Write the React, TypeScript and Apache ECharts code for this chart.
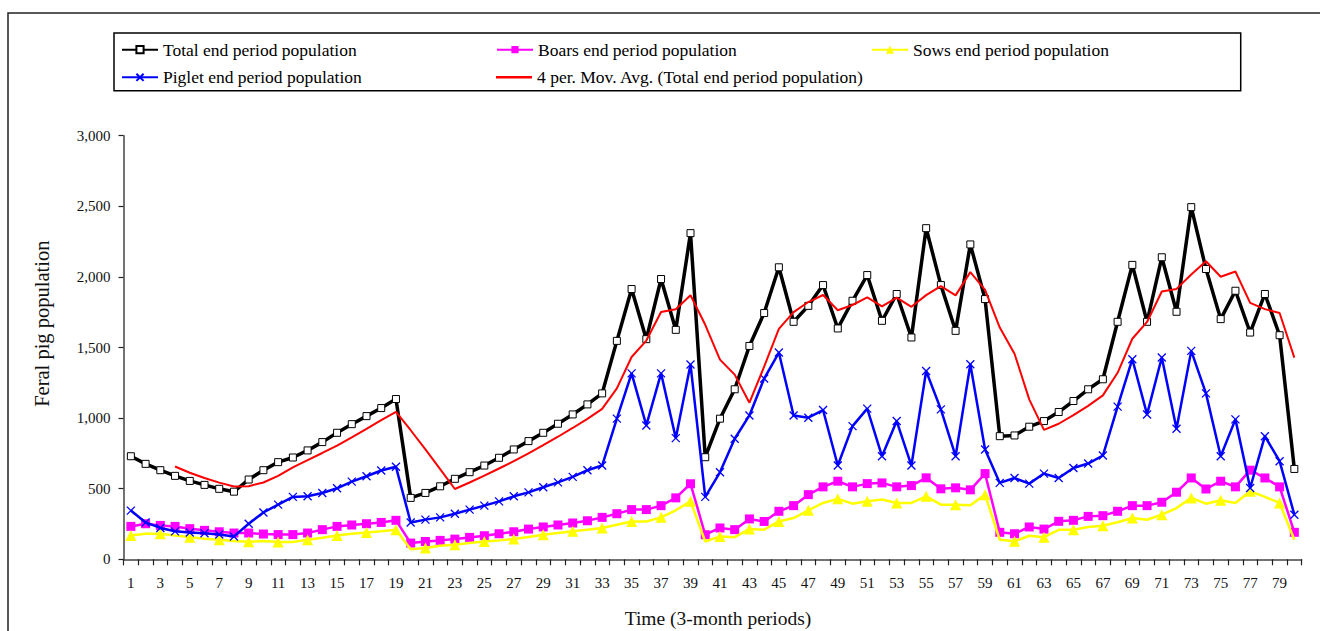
import React, { useEffect, useRef } from "react";
import * as echarts from "echarts";

const periods: string[] = Array.from({ length: 80 }, (_, i) => String(i + 1));

const totalPop = [
  730, 676, 631, 591, 555, 527, 499, 479, 565, 631,
  688, 721, 771, 830, 896, 957, 1014, 1071, 1135, 435,
  470, 517, 570, 617, 664, 719, 778, 837, 896, 960,
  1026, 1097, 1175, 1547, 1914, 1559, 1985, 1625, 2310, 723,
  996, 1204, 1511, 1744, 2068, 1682, 1795, 1942, 1635, 1831,
  2013, 1689, 1879, 1571, 2345, 1942, 1618, 2230, 1843, 872,
  877, 939, 979, 1043, 1121, 1204, 1275, 1682, 2085, 1682,
  2139, 1753, 2494, 2056, 1701, 1902, 1606, 1879, 1587, 640,
];

const boarsPop = [
  233, 252, 240, 233, 217, 205, 195, 186, 186, 179,
  175, 175, 186, 210, 233, 243, 252, 261, 276, 115,
  126, 134, 143, 155, 167, 181, 195, 214, 229, 243,
  257, 273, 297, 323, 352, 352, 380, 435, 535, 174,
  222, 210, 286, 268, 340, 380, 458, 513, 553, 513,
  536, 541, 513, 522, 577, 499, 506, 492, 607, 191,
  181, 229, 214, 269, 276, 304, 309, 340, 380, 380,
  404, 475, 576, 498, 553, 513, 631, 576, 513, 191,
];

const sowsPop = [
  169, 181, 181, 169, 157, 145, 138, 129, 124, 129,
  122, 122, 138, 152, 169, 181, 190, 198, 210, 72,
  80, 96, 103, 115, 126, 134, 143, 158, 174, 186,
  198, 210, 222, 245, 268, 268, 297, 347, 411, 126,
  162, 157, 214, 210, 268, 292, 347, 399, 428, 394,
  411, 423, 399, 399, 446, 387, 387, 383, 458, 138,
  127, 167, 157, 209, 209, 229, 238, 262, 292, 280,
  316, 363, 435, 394, 418, 399, 482, 442, 399, 138,
];

const pigletPop = [
  345, 261, 222, 198, 190, 185, 176, 162, 252, 332,
  387, 442, 446, 470, 503, 550, 588, 629, 655, 261,
  281, 297, 323, 352, 380, 410, 446, 474, 510, 545,
  584, 631, 664, 996, 1317, 948, 1317, 858, 1380, 442,
  616, 854, 1019, 1280, 1464, 1019, 1003, 1057, 664, 943,
  1067, 730, 979, 664, 1334, 1062, 730, 1381, 778, 541,
  576, 536, 607, 576, 647, 678, 735, 1081, 1417, 1026,
  1429, 925, 1476, 1175, 730, 991, 505, 872, 695, 316,
];

const movAvg = [
  null, null, null, 657, 613, 576, 543, 515, 518, 544,
  591, 651, 703, 753, 805, 864, 924, 985, 1044, 914,
  778, 639, 498, 544, 592, 643, 695, 750, 808, 868,
  930, 995, 1065, 1211, 1433, 1549, 1751, 1771, 1870, 1661,
  1414, 1308, 1109, 1364, 1632, 1751, 1822, 1872, 1764, 1801,
  1855, 1792, 1853, 1788, 1871, 1934, 1869, 2034, 1908, 1641,
  1456, 1133, 917, 960, 1021, 1087, 1161, 1321, 1562, 1681,
  1897, 1915, 2017, 2111, 2001, 2038, 1816, 1772, 1744, 1428,
];

const yTicks = { min: 0, max: 3000, interval: 500 };

const NAMES = {
  total: "Total end period population",
  boars: "Boars end period population",
  sows: "Sows end period population",
  piglet: "Piglet end period population",
  ma: "4 per. Mov. Avg. (Total end period population)",
};

const FONT = "'Liberation Serif', 'Times New Roman', serif";
const CROSS = "path://M0,0L10,10M10,0L0,10";

export default function App() {
  const ref = useRef<HTMLDivElement>(null);

  useEffect(() => {
    if (!ref.current) return;
    const chart = echarts.init(ref.current, undefined, { renderer: "svg" });

    const legendBase = {
      orient: "horizontal",
      itemWidth: 36,
      itemHeight: 9,
      itemGap: 0,
      padding: 0,
      selectedMode: false,
      textStyle: { fontSize: 17.5, fontFamily: FONT, color: "#000", lineHeight: 18 },
    };

    chart.setOption({
      animation: false,
      backgroundColor: "#fff",
      legend: [
        { ...legendBase, left: 121, top: 40.7, data: [NAMES.total] },
        { ...legendBase, left: 496, top: 40.7, data: [NAMES.boars] },
        { ...legendBase, left: 871, top: 40.7, itemHeight: 10, data: [NAMES.sows] },
        { ...legendBase, left: 121, top: 68.3, data: [NAMES.piglet] },
        {
          ...legendBase,
          left: 496,
          top: 68.3,
          itemHeight: 2.5,
          data: [{ name: NAMES.ma, icon: "rect" }],
        },
      ],
      grid: { left: 123.5, top: 135.7, width: 1178.2, height: 423.6, containLabel: false },
      xAxis: {
        type: "category",
        data: periods,
        boundaryGap: true,
        axisLine: { lineStyle: { color: "#444", width: 1.5 } },
        axisTick: { show: true, interval: 0, length: 6, lineStyle: { color: "#222", width: 1.2 } },
        axisLabel: { interval: 1, margin: 16, fontSize: 15, fontFamily: FONT, color: "#111" },
        splitLine: { show: false },
      },
      yAxis: {
        type: "value",
        min: yTicks.min,
        max: yTicks.max,
        interval: yTicks.interval,
        axisLine: { show: true, lineStyle: { color: "#444", width: 1.5 } },
        axisTick: { show: true, length: 5, lineStyle: { color: "#222", width: 1.2 } },
        axisLabel: {
          margin: 13,
          fontSize: 15,
          fontFamily: FONT,
          color: "#111",
          formatter: (v: number) => v.toLocaleString("en-US"),
        },
        splitLine: { show: false },
      },
      graphic: [
        {
          type: "rect",
          silent: true,
          z: -10,
          shape: { x: 8, y: 13, width: 1400, height: 700 },
          style: { fill: "none", stroke: "#222", lineWidth: 1.5 },
        },
        {
          type: "rect",
          silent: true,
          z: -5,
          shape: { x: 114, y: 33, width: 1126.7, height: 57.7 },
          style: { fill: "none", stroke: "#000", lineWidth: 1.5 },
        },
        {
          type: "text",
          silent: true,
          x: 42,
          y: 323.7,
          rotation: Math.PI / 2,
          style: {
            text: "Feral pig population",
            fontSize: 20.5,
            fontFamily: FONT,
            fill: "#111",
            textAlign: "center",
            textVerticalAlign: "middle",
          },
        },
        {
          type: "text",
          silent: true,
          x: 718,
          y: 618,
          style: {
            text: "Time (3-month periods)",
            fontSize: 19.5,
            fontFamily: FONT,
            fill: "#111",
            textAlign: "center",
            textVerticalAlign: "middle",
          },
        },
      ],
      series: [
        {
          name: NAMES.total,
          type: "line",
          data: totalPop,
          symbol: "rect",
          symbolSize: 7,
          lineStyle: { color: "#000", width: 3.5 },
          itemStyle: { color: "#fff", borderColor: "#000", borderWidth: 1 },
          z: 3,
        },
        {
          name: NAMES.boars,
          type: "line",
          data: boarsPop,
          symbol: "rect",
          symbolSize: 9,
          lineStyle: { color: "#ff00ff", width: 2.5 },
          itemStyle: { color: "#ff00ff" },
          z: 4,
        },
        {
          name: NAMES.sows,
          type: "line",
          data: sowsPop,
          symbol: "triangle",
          symbolSize: 11,
          lineStyle: { color: "#ffff00", width: 2.5 },
          itemStyle: { color: "#ffff00" },
          z: 5,
        },
        {
          name: NAMES.piglet,
          type: "line",
          data: pigletPop,
          symbol: CROSS,
          symbolSize: 8,
          lineStyle: { color: "#0000ff", width: 2.5 },
          itemStyle: { color: "#0000ff", borderColor: "#0000ff", borderWidth: 1.3 },
          z: 6,
        },
        {
          name: NAMES.ma,
          type: "line",
          data: movAvg,
          symbol: "none",
          showSymbol: false,
          lineStyle: { color: "#ff0000", width: 2 },
          itemStyle: { color: "#ff0000" },
          z: 7,
        },
      ],
    });

    return () => chart.dispose();
  }, []);

  return (
    <div
      ref={ref}
      style={{ position: "fixed", left: 0, top: 0, width: 1320, height: 631, background: "#fff" }}
    />
  );
}
